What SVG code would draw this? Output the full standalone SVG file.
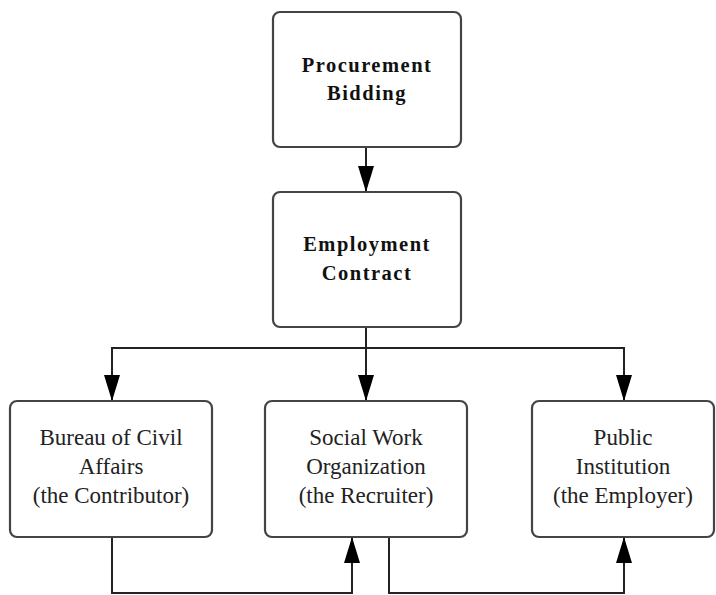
<svg xmlns="http://www.w3.org/2000/svg" width="716" height="595" viewBox="0 0 716 595">
<style>
.box{fill:#fff;stroke:#444;stroke-width:2.2}
.hd{font-family:"Liberation Serif",serif;font-weight:bold;font-size:20.5px;letter-spacing:1.5px;fill:#111;text-anchor:middle}
.tx{font-family:"Liberation Serif",serif;font-size:23px;fill:#222;text-anchor:middle}
.ln{fill:none;stroke:#222;stroke-width:2}
</style>
<defs>
<marker id="ah" markerUnits="userSpaceOnUse" markerWidth="26" markerHeight="16" refX="25" refY="8" orient="auto" viewBox="0 0 26 16">
<path d="M0,0 L26,8 L0,16 Z" fill="#000"/>
</marker>
</defs>
<g id="connectors">
<path class="ln" d="M366,147 V191" marker-end="url(#ah)"/>
<path class="ln" d="M366,327 V400" marker-end="url(#ah)"/>
<path class="ln" d="M366,348 H112 V400" marker-end="url(#ah)"/>
<path class="ln" d="M366,348 H624 V400" marker-end="url(#ah)"/>
<path class="ln" d="M112,537 V593 H352 V538" marker-end="url(#ah)"/>
<path class="ln" d="M389,537 V593 H624 V538" marker-end="url(#ah)"/>
</g>
<g id="procurement">
<rect class="box" x="273" y="12" width="188" height="135" rx="7"/>
<text class="hd" x="367" y="72">Procurement</text>
<text class="hd" x="367" y="100">Bidding</text>
</g>
<g id="employment">
<rect class="box" x="273" y="192" width="188" height="135" rx="7"/>
<text class="hd" x="367" y="251">Employment</text>
<text class="hd" x="367" y="280">Contract</text>
</g>
<g id="bureau">
<rect class="box" x="10" y="401" width="202" height="136" rx="7"/>
<text class="tx" x="111" y="445">Bureau of Civil</text>
<text class="tx" x="111" y="474">Affairs</text>
<text class="tx" x="111" y="503">(the Contributor)</text>
</g>
<g id="social">
<rect class="box" x="265" y="401" width="202" height="136" rx="7"/>
<text class="tx" x="366" y="445">Social Work</text>
<text class="tx" x="366" y="474">Organization</text>
<text class="tx" x="366" y="503">(the Recruiter)</text>
</g>
<g id="public">
<rect class="box" x="532" y="401" width="182" height="136" rx="7"/>
<text class="tx" x="623" y="445">Public</text>
<text class="tx" x="623" y="474">Institution</text>
<text class="tx" x="623" y="503">(the Employer)</text>
</g>
</svg>
